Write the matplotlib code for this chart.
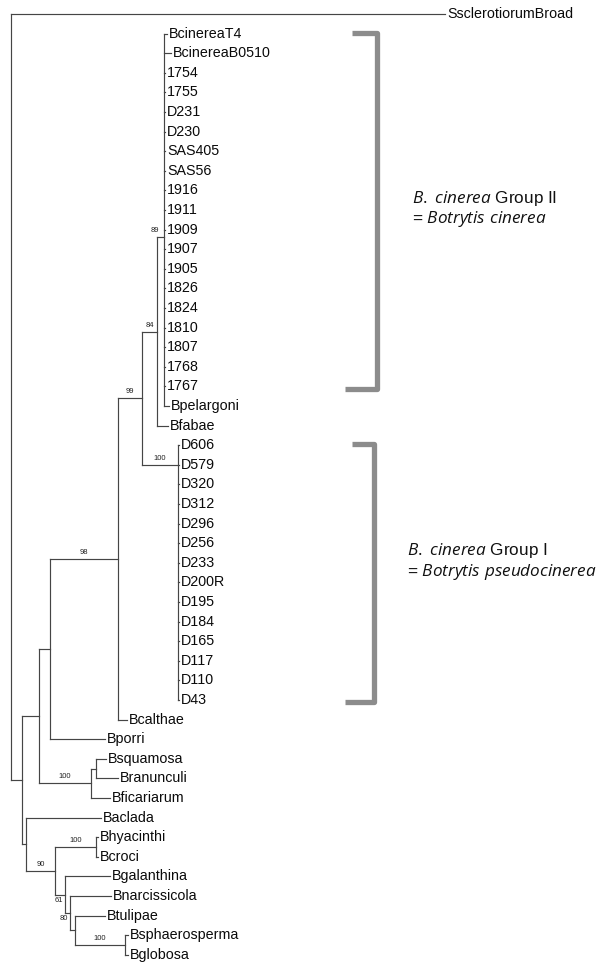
# phylogenetic tree of Botrytis isolates with the two B. cinerea groups bracketed

import matplotlib.pyplot as plt

plt.rcParams['font.family'] = ['Liberation Sans', 'DejaVu Sans']
plt.rcParams['mathtext.fontset'] = 'custom'
plt.rcParams['mathtext.it'] = 'Open Sans:italic'
plt.rcParams['mathtext.rm'] = 'Open Sans'

# leaves, top to bottom
leaves = ['SsclerotiorumBroad', 'BcinereaT4', 'BcinereaB0510', '1754', '1755',
          'D231', 'D230', 'SAS405', 'SAS56', '1916', '1911', '1909', '1907',
          '1905', '1826', '1824', '1810', '1807', '1768', '1767', 'Bpelargoni',
          'Bfabae', 'D606', 'D579', 'D320', 'D312', 'D296', 'D256', 'D233',
          'D200R', 'D195', 'D184', 'D165', 'D117', 'D110', 'D43', 'Bcalthae',
          'Bporri', 'Bsquamosa', 'Branunculi', 'Bficariarum', 'Baclada',
          'Bhyacinthi', 'Bcroci', 'Bgalanthina', 'Bnarcissicola', 'Btulipae',
          'Bsphaerosperma', 'Bglobosa']
leaf_parent = (['root'] + ['n89'] * 20 + ['n84'] + ['nGI'] * 14 +
               ['n98', 'nb', 'nsq2', 'nsq2', 'nsq', 'nlow', 'nhc', 'nhc',
                'n61', 'n80', 'nt', 'nsp', 'nsp'])
# depth of each tip (tree units)
leaf_depth = ([445, 167, 171] + [165] * 17 + [169, 168] + [179] * 14 +
              [127, 105, 106, 118, 110, 101, 98, 98, 110, 111, 105, 128, 128])

# internal nodes
node_ids = ['root', 'nin', 'na', 'nb', 'n98', 'n99', 'n84', 'n89', 'nGI',
            'nsq', 'nsq2', 'nlow', 'n90', 'nhc', 'n61', 'n80', 'nt', 'nsp']
node_parent = [None, 'root', 'nin', 'na', 'nb', 'n98', 'n99', 'n84', 'n99',
               'na', 'nsq', 'nin', 'nlow', 'n90', 'n90', 'n61', 'n80', 'nt']
node_depth = [11, 22, 39, 50, 118, 142, 157, 164, 178,
              91, 96, 26, 55, 96, 65, 70, 75, 125]
node_support = [None, None, None, None, 98, 99, 84, 89, 100,
                100, None, None, 90, 100, 61, 80, None, 100]
# the two polytomies are joined at a given leaf row instead of midway
node_join = {'n89': 11.4, 'nGI': 23}

# bracketed groups: first leaf, last leaf, two text lines
groups = [('BcinereaT4', '1767', r'$\mathit{B.\ cinerea}$ Group II',
           r'= $\mathit{Botrytis\ cinerea}$'),
          ('D606', 'D43', r'$\mathit{B.\ cinerea}$ Group I',
           r'= $\mathit{Botrytis\ pseudocinerea}$')]

depth = dict(zip(node_ids, node_depth))
children = {n: [] for n in node_ids}
for n, p in zip(node_ids, node_parent):
    if p is not None:
        children[p].append(n)
for i, p in enumerate(leaf_parent):
    children[p].append(i)

ypos = {i: float(i) for i in range(len(leaves))}


def get_y(n):
    if n in ypos:
        return ypos[n]
    ys = [get_y(c) for c in children[n]]
    ypos[n] = node_join.get(n, (min(ys) + max(ys)) / 2)
    return ypos[n]


get_y('root')

fig = plt.figure(figsize=(6.09, 9.64), dpi=100)
ax = fig.add_axes([0, 0, 1, 1])
ax.set_xlim(0, 609)
ax.set_ylim(950 / 19.6, -14 / 19.6)
ax.axis('off')

lc = '#454545'
lw = 0.85
for n in node_ids:
    x = depth[n]
    cys = [ypos[c] for c in children[n]]
    ax.plot([x, x], [min(cys), max(cys)], color=lc, lw=lw,
            solid_capstyle='projecting')
    for c in children[n]:
        cx = depth[c] if c in depth else leaf_depth[c]
        ax.plot([x, cx], [ypos[c], ypos[c]], color=lc, lw=lw,
                solid_capstyle='projecting')

for i, name in enumerate(leaves):
    ax.text(leaf_depth[i] + 2, i, name, fontsize=10.3, ha='left',
            va='center', color='#0a0a0a')

# bootstrap values
left_lab = ['n89']
below_lab = ['n61', 'n80']
for n, p, s in zip(node_ids, node_parent, node_support):
    if s is None:
        continue
    x, y = depth[n], ypos[n]
    if n in left_lab:
        ax.text(x - 5, y - 0.15, str(s), fontsize=5.5, ha='right',
                va='bottom', color='#222222')
    elif n in below_lab:
        ax.text(x - 2, y + 0.1, str(s), fontsize=5.5, ha='right',
                va='top', color='#222222')
    else:
        ax.text((depth[p] + x) / 2, y - 0.15, str(s), fontsize=5.5,
                ha='center', va='bottom', color='#222222')

# brackets and group names
text_rows = [(9.4, 10.45), (27.35, 28.45)]
text_x = [412, 407]
for k, (a, b, t1, t2) in enumerate(groups):
    ya = leaves.index(a) - 0.05
    yb = leaves.index(b) + 0.12
    xr = 377 - 3 * k
    ax.plot([352, xr, xr, 345], [ya, ya, yb, yb], color='#8c8c8c',
            lw=3.8, solid_joinstyle='round', solid_capstyle='butt')
    r1, r2 = text_rows[k]
    ax.text(text_x[k], r1, t1, fontsize=12.3, ha='left', va='center',
            color='#111111')
    ax.text(text_x[k], r2, t2, fontsize=12.3, ha='left', va='center',
            color='#111111')

fig.savefig('out.png', dpi=100)
